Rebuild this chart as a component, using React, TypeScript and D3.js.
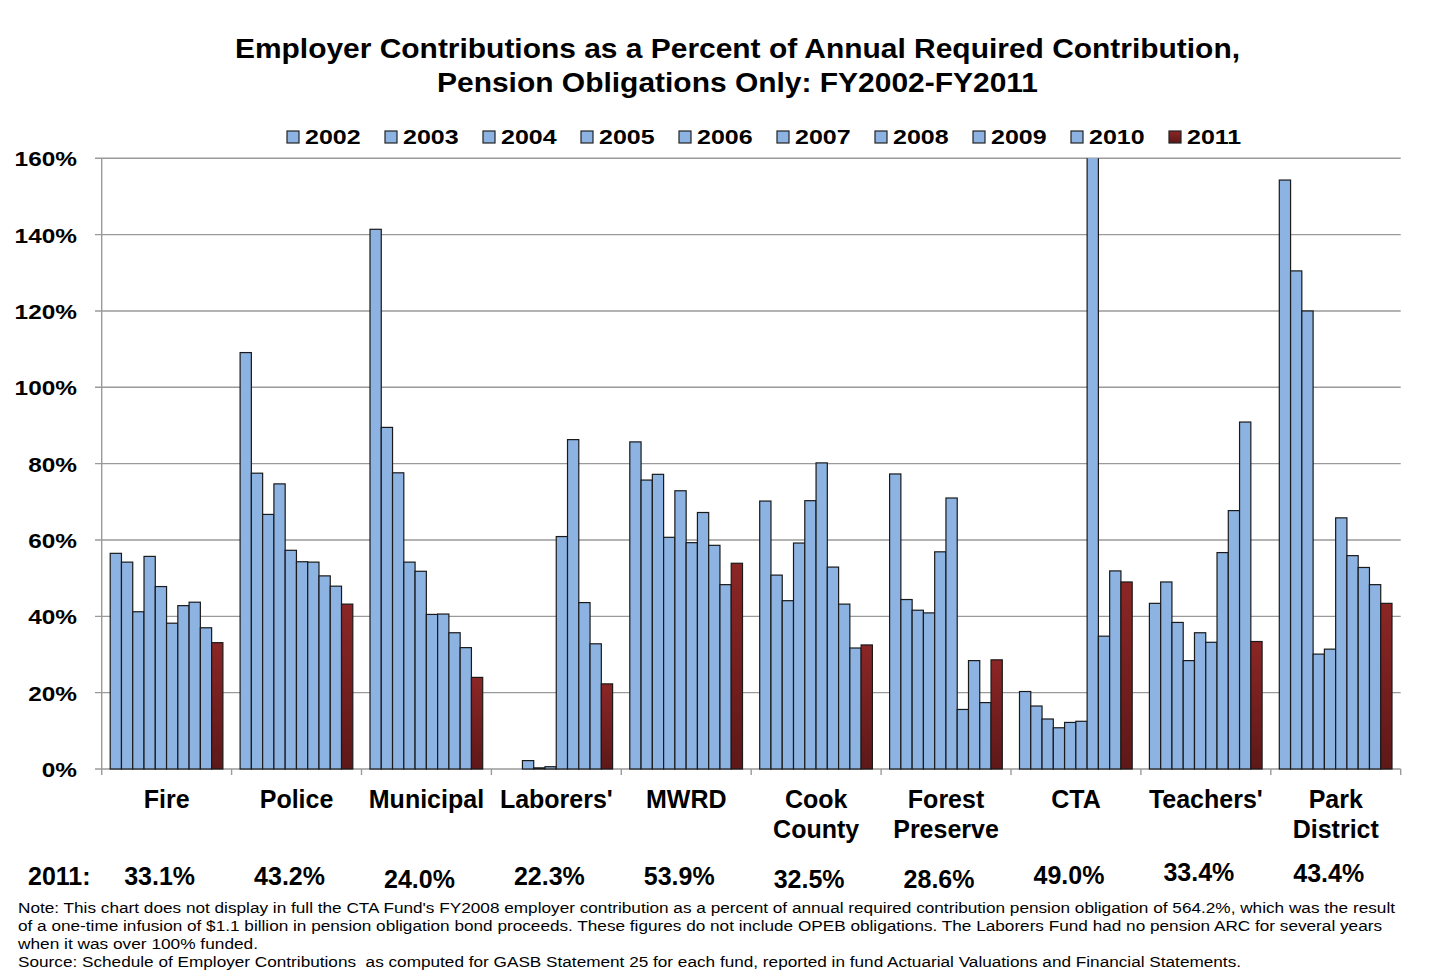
import React from 'react';
import * as d3 from 'd3';

const years = ['2002', '2003', '2004', '2005', '2006', '2007', '2008', '2009', '2010', '2011'];
const funds = ['Fire', 'Police', 'Municipal', "Laborers'", 'MWRD', 'Cook County', 'Forest Preserve', 'CTA', "Teachers'", 'Park District'];

// percent of ARC, one row per fund, FY2002..FY2011 (null = no ARC)
const fire = [56.5, 54.2, 41.2, 55.7, 47.8, 38.2, 42.8, 43.7, 37.0, 33.1];
const police = [109.1, 77.5, 66.7, 74.7, 57.3, 54.3, 54.2, 50.6, 47.9, 43.2];
const municipal = [141.4, 89.5, 77.6, 54.2, 51.8, 40.5, 40.6, 35.7, 31.8, 24.0];
const laborers = [null, null, 2.2, 0.3, 0.6, 60.9, 86.3, 43.6, 32.8, 22.3];
const mwrd = [85.7, 75.7, 77.2, 60.7, 72.9, 59.3, 67.2, 58.6, 48.3, 53.9];
const cookCounty = [70.2, 50.8, 44.1, 59.2, 70.3, 80.2, 52.9, 43.2, 31.7, 32.5];
const forestPreserve = [77.3, 44.4, 41.6, 40.9, 56.9, 71.0, 15.6, 28.4, 17.4, 28.6];
const cta = [20.3, 16.5, 13.1, 10.8, 12.2, 12.5, 564.2, 34.8, 51.9, 49.0];
const teachers = [43.4, 49.0, 38.4, 28.4, 35.7, 33.2, 56.7, 67.7, 90.9, 33.4];
const parkDistrict = [154.3, 130.5, 120.0, 30.1, 31.4, 65.8, 55.9, 52.8, 48.3, 43.4];

const yTicks = [0, 20, 40, 60, 80, 100, 120, 140, 160];

const series = [fire, police, municipal, laborers, mwrd, cookCounty, forestPreserve, cta, teachers, parkDistrict];

const titleLines = [
  'Employer Contributions as a Percent of Annual Required Contribution,',
  'Pension Obligations Only: FY2002-FY2011',
];
const titleWidths = [1005, 601];

const noteLines = [
  "Note: This chart does not display in full the CTA Fund's FY2008 employer contribution as a percent of annual required contribution pension obligation of 564.2%, which was the result",
  'of a one-time infusion of $1.1 billion in pension obligation bond proceeds. These figures do not include OPEB obligations. The Laborers Fund had no pension ARC for several years',
  'when it was over 100% funded.',
  'Source: Schedule of Employer Contributions  as computed for GASB Statement 25 for each fund, reported in fund Actuarial Valuations and Financial Statements.',
];
const noteWidths = [1377, 1364, 240, 1223];

// small vertical nudges of the "2011:" value row, as in the original
const valueDy = [0, 0, 2.5, 0, 0, 2.5, 2.5, -1.5, -4.5, -3.5];

const BLUE = '#8db3e2';
const FONT = 'Liberation Sans, Arial, Helvetica, sans-serif';

export default function App() {
  const width = 1438;
  const height = 978;
  const left = 101.7;
  const right = 1400.7;
  const top = 158.3;
  const bottom = 769;

  const x0 = d3.scaleBand().domain(funds).range([left, right]).paddingInner(0).paddingOuter(0);
  const x1 = d3.scaleBand().domain(years).range([8.5, 8.5 + 112.7]);
  const y = d3.scaleLinear().domain([0, 160]).range([bottom, top]);

  const legendX = d3.scaleBand().domain(years).range([287, 287 + 98 * 10]);

  return (
    <svg width={width} height={height} style={{ display: 'block', margin: '-8px' }} fontFamily={FONT}>
      <defs>
        <linearGradient id="red" x1="0" y1="0" x2="0" y2="1">
          <stop offset="0%" stopColor="#8c2626" />
          <stop offset="100%" stopColor="#5e1818" />
        </linearGradient>
        <clipPath id="plot">
          <rect x={left} y={top} width={right - left} height={bottom - top + 2} />
        </clipPath>
      </defs>
      <rect width={width} height={height} fill="#fff" />

      {/* title */}
      {titleLines.map((t, i) => (
        <text
          key={i}
          x={737.5}
          y={58 + i * 34}
          textAnchor="middle"
          fontSize={27}
          fontWeight="bold"
          textLength={titleWidths[i]}
          lengthAdjust="spacingAndGlyphs"
        >
          {t}
        </text>
      ))}

      {/* legend */}
      {years.map((yr, i) => {
        const lx = legendX(yr)!;
        return (
          <g key={yr}>
            <rect x={lx} y={131} width={12} height={12} fill={i === 9 ? 'url(#red)' : BLUE} stroke="#222" strokeWidth={1.2} />
            <text transform={`translate(${lx + 18},144) scale(1.22,1)`} fontSize={20.5} fontWeight="bold">{yr}</text>
          </g>
        );
      })}

      {/* grid and y ticks */}
      {yTicks.map(t => (
        <g key={t}>
          <line x1={95} x2={right} y1={y(t)} y2={y(t)} stroke="#9a9a9a" strokeWidth={1.4} />
          <text transform={`translate(77,${y(t) + 8}) scale(1.22,1)`} textAnchor="end" fontSize={20} fontWeight="bold">{t}%</text>
        </g>
      ))}
      <line x1={left} x2={left} y1={top} y2={bottom} stroke="#9a9a9a" strokeWidth={1.4} />
      {[...funds.map(f => x0(f)!), right].map((bx, i) => (
        <line key={i} x1={bx} x2={bx} y1={bottom} y2={bottom + 6} stroke="#9a9a9a" strokeWidth={1.4} />
      ))}

      {/* bars */}
      <g clipPath="url(#plot)">
        {funds.map((f, fi) => (
          <g key={f} transform={`translate(${x0(f)},0)`}>
            {series[fi].map((v, yi) => {
              if (v === null) return null;
              const yTop = y(v);
              return (
                <rect
                  key={yi}
                  x={x1(years[yi])}
                  y={yTop}
                  width={x1.bandwidth()}
                  height={bottom - yTop}
                  fill={yi === 9 ? 'url(#red)' : BLUE}
                  stroke="#1a1a1a"
                  strokeWidth={1.2}
                />
              );
            })}
          </g>
        ))}
      </g>

      {/* category labels */}
      {funds.map(f => {
        const cx = x0(f)! + x0.bandwidth() / 2;
        const parts = f.split(' ');
        return (
          <text key={f} x={cx} y={808} textAnchor="middle" fontSize={25} fontWeight="bold">
            {parts.map((p, i) => (
              <tspan key={i} x={cx} dy={i === 0 ? 0 : 30}>{p}</tspan>
            ))}
          </text>
        );
      })}

      {/* 2011 values row */}
      <text x={28} y={885} fontSize={25} fontWeight="bold">2011:</text>
      {funds.map((f, fi) => (
        <text key={f} x={x0(f)! + x0.bandwidth() / 2 - 7} y={885 + valueDy[fi]} textAnchor="middle" fontSize={25} fontWeight="bold">
          {series[fi][9]!.toFixed(1)}%
        </text>
      ))}

      {/* note */}
      {noteLines.map((line, i) => (
        <text
          key={i}
          x={18}
          y={913 + i * 18}
          fontSize={15.5}
          textLength={noteWidths[i]}
          lengthAdjust="spacingAndGlyphs"
          style={{ whiteSpace: 'pre' }}
        >
          {line}
        </text>
      ))}
    </svg>
  );
}
